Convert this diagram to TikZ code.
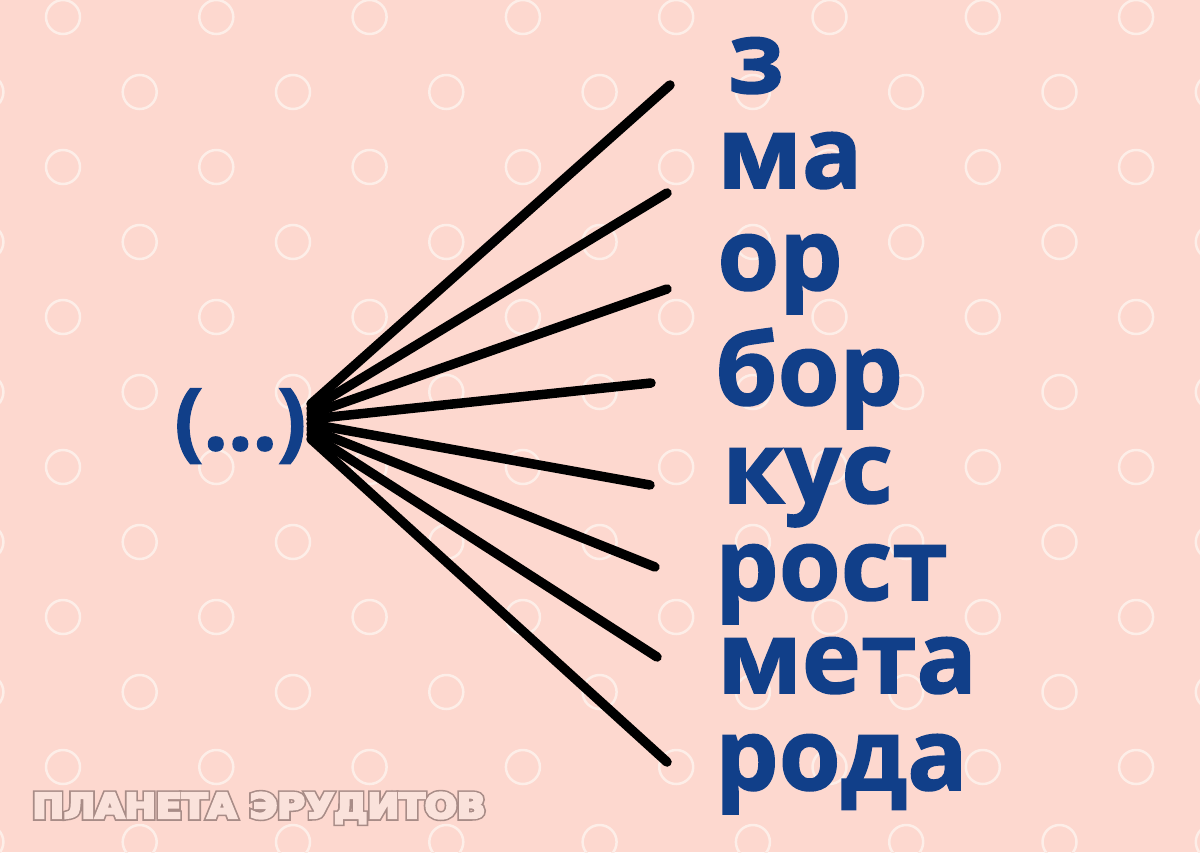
\documentclass[tikz,border=0pt]{standalone}
\usepackage{fontspec}
\setmainfont{Open Sans}
\newfontfamily\wordfont{Open Sans}[BoldFeatures={FakeBold=1.5}]
\newfontfamily\markfont{DejaVu Sans}[BoldFeatures={FakeBold=16}]
\newfontfamily\markfontlight{DejaVu Sans}[BoldFeatures={FakeBold=7}]
\usetikzlibrary{positioning,calc}
\definecolor{bgpink}{RGB}{253,216,207}
\definecolor{ringwhite}{RGB}{253,238,232}
\definecolor{wordblue}{RGB}{17,63,137}
\definecolor{markline}{RGB}{168,140,135}
\definecolor{markfill}{RGB}{250,226,219}

\begin{document}
\begin{tikzpicture}[x=0.02cm, y=-0.02cm,
    word/.style={anchor=base west, inner sep=0pt, text=wordblue, font=\fontsize{57}{57}\selectfont\wordfont\bfseries},
    blank/.style={anchor=base west, inner sep=0pt, text=wordblue, font=\fontsize{49}{49}\selectfont\wordfont\bfseries},
    ray/.style={line width=0.19cm, line cap=round, black},
    ring/.style={draw=ringwhite, line width=0.05cm},
    markback/.style={anchor=base west, inner sep=0pt, text=markline, font=\fontsize{19.5}{19.5}\selectfont\markfont\bfseries, xscale=1.1},
    markfront/.style={anchor=base west, inner sep=0pt, text=markfill, font=\fontsize{19.5}{19.5}\selectfont\markfontlight\bfseries, xscale=1.1}
]

% Background
\fill[bgpink] (0,0) rectangle (1200,852);
\useasboundingbox (0,0) rectangle (1200,852);

% Ring pattern
\foreach \r in {0,...,5} {
    \foreach \c in {0,...,7} {
        \draw[ring] ({63+153.3*\c},{17+150*\r}) circle (17);
    }
    \foreach \c in {0,...,8} {
        \draw[ring] ({-13.6+153.3*\c},{92+150*\r}) circle (17);
    }
}

% Gap to fill
\node[blank] (gap) at (174,450) {(...)};

% Word endings
\node[word] (w1) at (728,93) {з};
\node[word] (w2) at (717,188) {ма};
\node[word] (w3) at (717,290) {ор};
\node[word] (w4) at (715,405) {бор};
\node[word] (w5) at (722,503) {кус};
\node[word] (w6) at (715,600) {рост};
\node[word] (w7) at (717,693) {мета};
\node[word] (w8) at (715,790) {рода};

% Ray ends
\coordinate (e1) at (670,85);
\coordinate (e2) at (667,193);
\coordinate (e3) at (667,289);
\coordinate (e4) at (651,383);
\coordinate (e5) at (650,485);
\coordinate (e6) at (655,567);
\coordinate (e7) at (657,657);
\coordinate (e8) at (667,762);

% Rays from the gap
\coordinate (hub) at (311,421);
\draw[ray] ($(hub)+(0,-17)$) -- (e1);
\draw[ray] ($(hub)+(0,-12)$) -- (e2);
\draw[ray] ($(hub)+(0,-7)$) -- (e3);
\draw[ray] ($(hub)+(0,-2)$) -- (e4);
\draw[ray] ($(hub)+(0,3)$) -- (e5);
\draw[ray] ($(hub)+(0,8)$) -- (e6);
\draw[ray] ($(hub)+(0,13)$) -- (e7);
\draw[ray] ($(hub)+(0,18)$) -- (e8);

% Watermark
\node[markback] (mark-back) at (32,818) {ПЛАНЕТА ЭРУДИТОВ};
\node[markfront] (mark-front) at (32,818) {ПЛАНЕТА ЭРУДИТОВ};

\end{tikzpicture}
\end{document}
